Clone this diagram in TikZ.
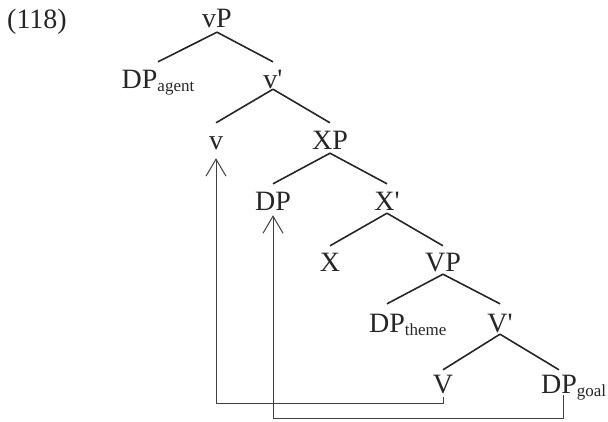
\documentclass[tikz,border=0pt]{standalone}
\usepackage{fontspec}
\setmainfont{Liberation Serif}
\usepackage{tikz}
\usetikzlibrary{arrows.meta}

\newcommand{\sub}[1]{\raisebox{-3pt}{\fontsize{17}{17}\selectfont #1}}
\newcommand{\barlevel}{\textquotesingle}

\begin{document}
\begin{tikzpicture}[
x=1pt, y=-1pt,
cat/.style={anchor=base, inner sep=0pt, text height=18pt, text depth=0pt,
font=\fontsize{28}{32}\selectfont, text=black!85},
branch/.style={line width=1.6pt, draw=black!85},
movearrow/.style={-{Straight Barb[length=17pt, width=20pt, line width=1pt]},
line width=1pt, draw=black!75}
]
\useasboundingbox (0,0) rectangle (608,421);
\node[cat] (num) at (37,28) {(118)};
\node[cat] (vP) at (217,27) {vP};
\node[cat] (Dag) at (158,88) {DP\sub{agent}};
\node[cat] (v1) at (273,88) {v\barlevel};
\node[cat] (v) at (216,149) {v};
\node[cat] (XP) at (330,149) {XP};
\node[cat] (DP) at (273,210) {DP};
\node[cat] (X1) at (387,210) {X\barlevel};
\node[cat] (X) at (330,271) {X};
\node[cat] (VP) at (443,271) {VP};
\node[cat] (Dth) at (387,332) {DP\rlap{\sub{theme}}};
\node[cat] (V1) at (500,332) {V\barlevel};
\node[cat] (V) at (443,393) {V};
\node[cat] (Dgo) at (559,393) {DP\rlap{\sub{goal}}};

\draw[branch] ([yshift=-5pt]vP.south) -- ([yshift=8pt]Dag.north);
\draw[branch] ([yshift=-5pt]vP.south) -- ([yshift=8pt]v1.north);
\draw[branch] ([yshift=-1pt]v1.south) -- ([yshift=8pt]v.north);
\draw[branch] ([yshift=-1pt]v1.south) -- ([yshift=8pt]XP.north);
\draw[branch] ([yshift=-4pt]XP.south) -- ([yshift=8pt]DP.north);
\draw[branch] ([yshift=-4pt]XP.south) -- ([yshift=8pt]X1.north);
\draw[branch] ([yshift=-3pt]X1.south) -- ([yshift=7pt]X.north);
\draw[branch] ([yshift=-3pt]X1.south) -- ([yshift=7pt]VP.north);
\draw[branch] ([yshift=-3pt]VP.south) -- ([yshift=10pt]Dth.north);
\draw[branch] ([yshift=-3pt]VP.south) -- ([yshift=10pt]V1.north);
\draw[branch] ([yshift=-2pt]V1.south) -- ([yshift=5pt]V.north);
\draw[branch] ([yshift=-2pt]V1.south) -- ([yshift=5pt]Dgo.north);

% movement arrows
\draw[movearrow] ([yshift=-4pt]V.south) -- ++(0,6) -| ([yshift=-9pt]v.south);
\draw[movearrow] ([xshift=4pt, yshift=-2pt]Dgo.south) -- ++(0,23) -| ([yshift=-5pt]DP.south);
\end{tikzpicture}
\end{document}
